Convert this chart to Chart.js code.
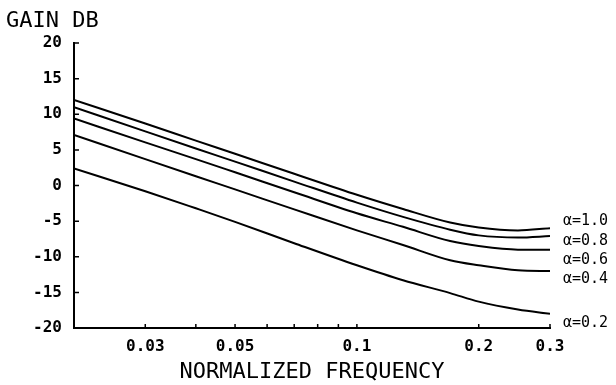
<!DOCTYPE html>
<html>
<head>
<meta charset="utf-8">
<script src="https://cdn.jsdelivr.net/npm/chart.js@4.4.0/dist/chart.umd.min.js"></script>
<style>
  html, body { margin: 0; padding: 0; background: #fff; }
  #wrap { width: 616px; height: 385px; }
</style>
</head>
<body>
<div id="wrap"><canvas id="gainChart"></canvas></div>
<script>
// data (gain in dB against normalized frequency)
const frequencies = [0.02, 0.03, 0.04, 0.05, 0.07, 0.1, 0.13, 0.17, 0.2, 0.25, 0.3];
const gain10 = [12.0, 8.7, 6.3, 4.45, 1.65, -1.3, -3.3, -5.2, -5.9, -6.3, -6.0];
const gain08 = [11.0, 7.6, 5.2, 3.35, 0.55, -2.4, -4.4, -6.2, -7.0, -7.3, -7.1];
const gain06 = [9.4, 6.05, 3.7, 1.85, -0.95, -3.9, -5.8, -7.8, -8.5, -9.0, -9.0];
const gain04 = [7.1, 3.7, 1.3, -0.55, -3.35, -6.3, -8.35, -10.5, -11.2, -11.9, -12.0];
const gain02 = [2.4, -0.8, -3.2, -5.1, -8.1, -11.2, -13.3, -15.1, -16.3, -17.4, -18.0];
const seriesNames = ["α=1.0", "α=0.8", "α=0.6", "α=0.4", "α=0.2"];
const labelGain = [-5.0, -7.8, -10.5, -13.1, -19.3];

const xTickValues = [0.03, 0.04, 0.05, 0.06, 0.07, 0.08, 0.09, 0.1, 0.2, 0.3];
const xTickLabels = ["0.03", "", "0.05", "", "", "", "", "0.1", "0.2", "0.3"];
const yTickValues = [-20, -15, -10, -5, 0, 5, 10, 15, 20];

const allGains = [gain10, gain08, gain06, gain04, gain02];

// ticks point inward, plus the text labels
const annotatePlot = {
  id: "annotatePlot",
  afterDraw(chart) {
    const { ctx, chartArea, scales } = chart;
    const x = scales.x, y = scales.y;
    ctx.save();
    ctx.strokeStyle = "#000";
    ctx.lineWidth = 1.5;
    ctx.beginPath();
    xTickValues.forEach((v) => {
      const px = x.getPixelForValue(v);
      ctx.moveTo(px, chartArea.bottom);
      ctx.lineTo(px, chartArea.bottom - 4);
    });
    yTickValues.forEach((v) => {
      const py = y.getPixelForValue(v);
      ctx.moveTo(chartArea.left, py);
      ctx.lineTo(chartArea.left + 5, py);
    });
    ctx.stroke();

    ctx.fillStyle = "#000";
    ctx.font = '22px "DejaVu Sans Mono"';
    ctx.textBaseline = "alphabetic";
    ctx.fillText("GAIN DB", 6, 27);

    ctx.font = '15px "DejaVu Sans Mono"';
    ctx.textBaseline = "middle";
    seriesNames.forEach((n, i) => {
      ctx.fillText(n, chartArea.right + 13, y.getPixelForValue(labelGain[i]));
    });
    ctx.restore();
  }
};

const ctx = document.getElementById("gainChart").getContext("2d");
new Chart(ctx, {
  type: "line",
  data: {
    datasets: allGains.map((g, k) => ({
      label: seriesNames[k],
      data: frequencies.map((f, i) => ({ x: f, y: g[i] })),
      borderColor: "#000",
      borderWidth: 2,
      pointRadius: 0,
      fill: false,
      cubicInterpolationMode: "monotone"
    }))
  },
  options: {
    responsive: true,
    maintainAspectRatio: false,
    animation: false,
    layout: { padding: { left: 0, top: 43, right: 66, bottom: 0 } },
    plugins: { legend: { display: false }, tooltip: { enabled: false } },
    scales: {
      x: {
        type: "logarithmic",
        min: 0.02,
        max: 0.3,
        afterBuildTicks: (s) => { s.ticks = xTickValues.map((v) => ({ value: v })); },
        afterFit: (s) => { s.height = 57; },
        grid: { display: false },
        border: { display: true, color: "#000", width: 2 },
        ticks: {
          autoSkip: false,
          maxRotation: 0,
          padding: 1,
          color: "#000",
          font: { family: "DejaVu Sans Mono", size: 16, weight: "bold" },
          callback: (v, i) => xTickLabels[i]
        },
        title: {
          display: true,
          text: "NORMALIZED FREQUENCY",
          color: "#000",
          font: { family: "DejaVu Sans Mono", size: 22 },
          padding: { top: 0, bottom: 0 }
        }
      },
      y: {
        min: -20,
        max: 20,
        afterFit: (s) => { s.width = 74; },
        grid: { display: false },
        border: { display: true, color: "#000", width: 2 },
        ticks: {
          stepSize: 5,
          padding: 4,
          color: "#000",
          font: { family: "DejaVu Sans Mono", size: 16, weight: "bold" }
        }
      }
    }
  },
  plugins: [annotatePlot]
});
</script>
</body>
</html>
